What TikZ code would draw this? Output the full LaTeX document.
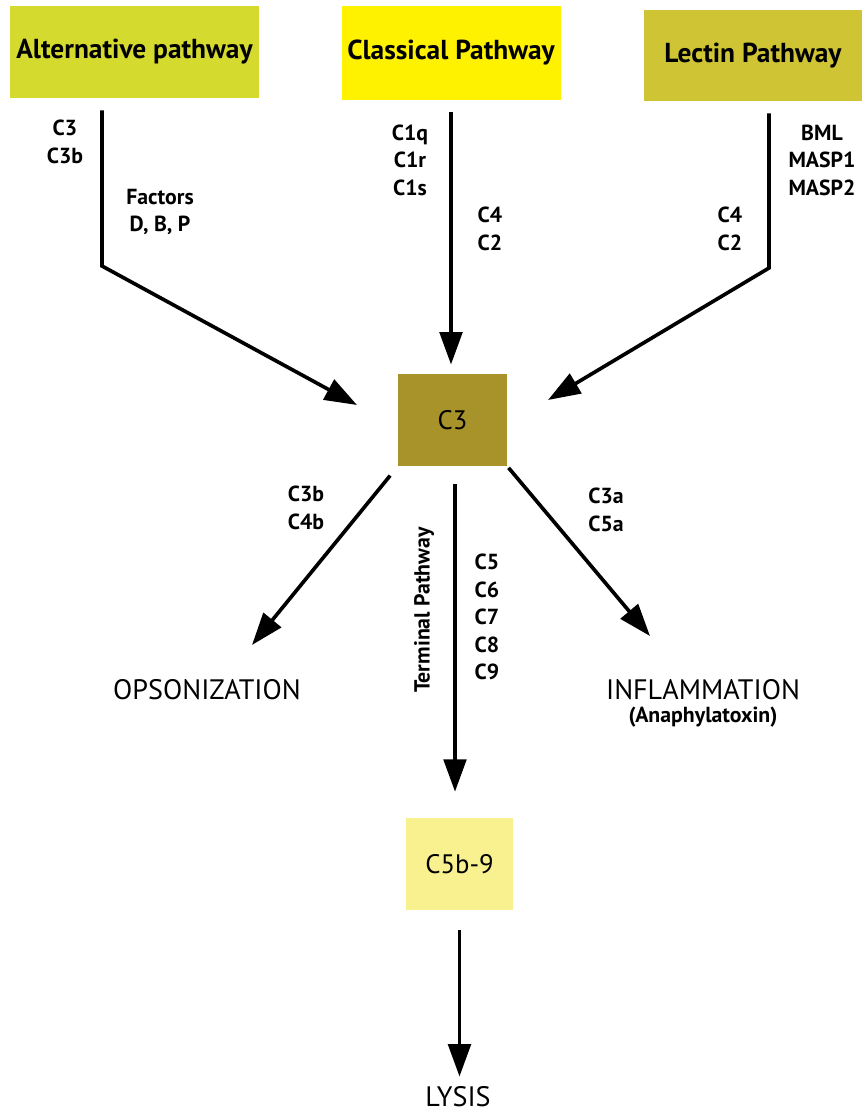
\documentclass[tikz,border=0pt]{standalone}
\usepackage{fontspec}
\setmainfont{PT Sans}
\usetikzlibrary{arrows.meta}
\definecolor{altgreen}{RGB}{213,219,46}
\definecolor{clsyellow}{RGB}{255,242,0}
\definecolor{lecolive}{RGB}{207,197,52}
\definecolor{cthree}{RGB}{168,146,42}
\definecolor{cfive}{RGB}{249,241,143}

\begin{document}
\begin{tikzpicture}[x=0.025cm, y=-0.025cm,
    box/.style={rectangle, inner sep=0pt, font=\fontsize{19.5}{21}\selectfont\bfseries},
    mid/.style={rectangle, inner sep=0pt, font=\fontsize{19}{21}\selectfont},
    lbl/.style={align=center, inner sep=0pt, font=\fontsize{15.5}{19.5}\selectfont\bfseries},
    result/.style={align=center, inner sep=0pt, font=\fontsize{20}{22}\selectfont},
    flow/.style={line width=2.6pt, -{Triangle[length=23pt,width=16pt]}}]
    \useasboundingbox (0,0) rectangle (864,1113);
    % pathways
    \node[box, fill=altgreen, minimum width=249*0.025cm, minimum height=92*0.025cm] (alt) at (134.5,52) {Alternative pathway};
    \node[box, fill=clsyellow, minimum width=219*0.025cm, minimum height=94*0.025cm] (cls) at (451,53) {Classical Pathway};
    \node[box, fill=lecolive, minimum width=218*0.025cm, minimum height=91*0.025cm] (lec) at (753,55.5) {Lectin Pathway};
    \node[mid, fill=cthree, minimum width=109*0.025cm, minimum height=92*0.025cm] (c3) at (452.5,420) {C3};
    \node[mid, fill=cfive, minimum width=107*0.025cm, minimum height=92*0.025cm] (c5b) at (459.5,864) {C5b-9};
    % outcomes
    \node[result] (ops) at (207,690) {OPSONIZATION};
    \node[result] (infl) at (703,690) {INFLAMMATION};
    \node[lbl] (anaph) at (703,717) {(Anaphylatoxin)};
    \node[result] (lysis) at (458,1097) {LYSIS};
    % bends and ends
    \coordinate (altbend) at (102,266);
    \coordinate (altend) at (357,405);
    \coordinate (lecbend) at (769,268);
    \coordinate (lecend) at (548,400);
    \coordinate (opsend) at (252,645);
    \coordinate (inflend) at (650,636);
    \coordinate (termx) at (455,0);
    \draw[flow] ([yshift=-0.3cm]alt.south -| altbend) -- (altbend) -- (altend);
    \draw[flow, shorten <=0.3cm, shorten >=0.23cm] (cls.south) -- (c3.north -| cls.south);
    \draw[flow] ([yshift=-0.3cm]lec.south -| lecbend) -- (lecbend) -- (lecend);
    \draw[flow, shorten <=0.3cm] (c3.south west) -- (opsend);
    \draw[flow, shorten <=0.05cm] (c3.south east) -- (inflend);
    \draw[flow, shorten <=0.45cm, shorten >=0.65cm] (c3.south -| termx) -- (c5b.north -| termx);
    \draw[flow, shorten <=0.5cm, shorten >=0.25cm] (c5b.south) -- (lysis.north -| c5b.south);
    % labels
    \node[lbl] (altA) at (65,142) {C3\\C3b};
    \node[lbl] (altB) at (160,212) {Factors\\D, B, P};
    \node[lbl] (clsA) at (410,160) {C1q\\C1r\\C1s};
    \node[lbl] (clsB) at (490,229) {C4\\C2};
    \node[lbl] (lecA) at (822,160) {BML\\MASP1\\MASP2};
    \node[lbl] (lecB) at (730,229) {C4\\C2};
    \node[lbl] (opsA) at (306,508) {C3b\\C4b};
    \node[lbl] (inflA) at (606,510) {C3a\\C5a};
    \node[lbl] (termA) at (487,617) {C5\\C6\\C7\\C8\\C9};
    \node[lbl, rotate=90] (term) at (424,610) {Terminal Pathway};
\end{tikzpicture}
\end{document}
